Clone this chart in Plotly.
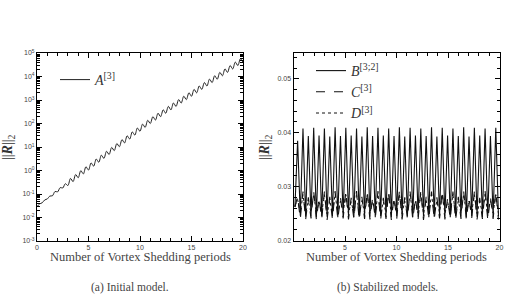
import plotly.graph_objects as go

# ---------------- data ----------------
# (a) Initial model: residual norm of A^[3], sampled every quarter shedding period
A_t = [i * 0.25 for i in range(81)]
A_res = [2.88e-2, 3.80e-2, 4.22e-2, 5.59e-2, 6.17e-2, 8.18e-2, 8.41e-2, 1.28e-1, 1.23e-1, 1.87e-1,
         1.80e-1, 2.74e-1, 2.29e-1, 4.60e-1, 3.35e-1, 6.72e-1, 4.90e-1, 9.83e-1, 7.16e-1, 1.44,
         1.045, 2.10, 1.53, 3.08, 2.24, 4.49, 3.27, 6.57, 4.79, 9.60,
         7.00, 14.0, 10.3, 20.6, 14.9, 30.0, 21.8, 43.9, 32.0, 64.2,
         46.7, 93.9, 68.4, 137, 99.8, 196, 140, 274, 195, 383,
         272, 534, 380, 746, 531, 1041, 741, 1454, 1035, 2030,
         1445, 2835, 2018, 3958, 2818, 5527, 3934, 7719, 5494, 10780,
         7671, 15050, 10710, 21010, 14960, 29340, 20890, 40960, 29170, 57220,
         40730]

# (b) Stabilized models, sampled every half oscillation
BCD_t = [round(0.14 + 0.26 * i, 2) for i in range(77)]
B_res = [0.0262, 0.0385, 0.0246, 0.0408, 0.0244, 0.0394, 0.0245, 0.0409, 0.0243, 0.0395,
         0.0245, 0.0408, 0.0244, 0.0393, 0.0245, 0.0410, 0.0243, 0.0394, 0.0244, 0.0409,
         0.0245, 0.0395, 0.0243, 0.0408, 0.0244, 0.0393, 0.0245, 0.0410, 0.0244, 0.0394,
         0.0243, 0.0409, 0.0245, 0.0395, 0.0244, 0.0408, 0.0243, 0.0394, 0.0245, 0.0410,
         0.0244, 0.0393, 0.0245, 0.0409, 0.0243, 0.0395, 0.0244, 0.0408, 0.0245, 0.0394,
         0.0243, 0.0410, 0.0244, 0.0393, 0.0245, 0.0409, 0.0244, 0.0395, 0.0243, 0.0408,
         0.0245, 0.0394, 0.0244, 0.0410, 0.0243, 0.0393, 0.0245, 0.0409, 0.0244, 0.0395,
         0.0243, 0.0408, 0.0245, 0.0394, 0.0244, 0.0409, 0.0245]
C_res = [0.0262, 0.0282, 0.0240, 0.0291, 0.0239, 0.0280, 0.0241, 0.0292, 0.0239, 0.0279,
         0.0240, 0.0291, 0.0238, 0.0281, 0.0240, 0.0292, 0.0239, 0.0280, 0.0241, 0.0291,
         0.0239, 0.0279, 0.0240, 0.0292, 0.0238, 0.0281, 0.0240, 0.0291, 0.0239, 0.0280,
         0.0241, 0.0292, 0.0239, 0.0279, 0.0240, 0.0291, 0.0238, 0.0281, 0.0240, 0.0292,
         0.0239, 0.0280, 0.0241, 0.0291, 0.0239, 0.0279, 0.0240, 0.0292, 0.0238, 0.0281,
         0.0240, 0.0291, 0.0239, 0.0280, 0.0241, 0.0292, 0.0239, 0.0279, 0.0240, 0.0291,
         0.0238, 0.0281, 0.0240, 0.0292, 0.0239, 0.0280, 0.0241, 0.0291, 0.0239, 0.0279,
         0.0240, 0.0292, 0.0238, 0.0281, 0.0240, 0.0291, 0.0239]
D_res = [0.0265, 0.0276, 0.0251, 0.0285, 0.0250, 0.0273, 0.0252, 0.0286, 0.0250, 0.0272,
         0.0251, 0.0285, 0.0249, 0.0274, 0.0251, 0.0286, 0.0250, 0.0273, 0.0252, 0.0285,
         0.0250, 0.0272, 0.0251, 0.0286, 0.0249, 0.0274, 0.0251, 0.0285, 0.0250, 0.0273,
         0.0252, 0.0286, 0.0250, 0.0272, 0.0251, 0.0285, 0.0249, 0.0274, 0.0251, 0.0286,
         0.0250, 0.0273, 0.0252, 0.0285, 0.0250, 0.0272, 0.0251, 0.0286, 0.0249, 0.0274,
         0.0251, 0.0285, 0.0250, 0.0273, 0.0252, 0.0286, 0.0250, 0.0272, 0.0251, 0.0285,
         0.0249, 0.0274, 0.0251, 0.0286, 0.0250, 0.0273, 0.0252, 0.0285, 0.0250, 0.0272,
         0.0251, 0.0286, 0.0249, 0.0274, 0.0251, 0.0285, 0.0250]

left_xticks = [0, 5, 10, 15, 20]
right_xticks = [5, 10, 15, 20]
left_yticks = [1e-3, 1e-2, 1e-1, 1e0, 1e1, 1e2, 1e3, 1e4, 1e5]
left_yticklabels = ["10<sup>-3</sup>", "10<sup>-2</sup>", "10<sup>-1</sup>", "10<sup>0</sup>",
                    "10<sup>1</sup>", "10<sup>2</sup>", "10<sup>3</sup>", "10<sup>4</sup>",
                    "10<sup>5</sup>"]
right_yticks = [0.02, 0.03, 0.04, 0.05]
right_yticklabels = ["0.02", "0.03", "0.04", "0.05"]

xtitle = "Number of Vortex Shedding periods"
ytitle = "||<b><i>R</i></b>||<sub>2</sub>"
captions = ["(a) Initial model.", "(b) Stabilized models."]

# ---------------- figure ----------------
W, H = 509, 302
SERIF = "Liberation Serif, Times New Roman, serif"
SANS = "Liberation Sans, Arial, sans-serif"

fig = go.Figure()

fig.add_trace(go.Scatter(x=A_t, y=A_res, mode="lines", name="<i>A</i><sup>[3]</sup>",
                         line=dict(color="#222", width=1, shape="spline", smoothing=0.9),
                         xaxis="x", yaxis="y", legend="legend"))
fig.add_trace(go.Scatter(x=BCD_t, y=B_res, mode="lines", name="<i>B</i><sup>[3;2]</sup>",
                         line=dict(color="#111", width=1.1),
                         xaxis="x2", yaxis="y2", legend="legend2"))
fig.add_trace(go.Scatter(x=BCD_t, y=C_res, mode="lines", name="<i>C</i><sup>[3]</sup>",
                         line=dict(color="#111", width=1.1, dash="dash"),
                         xaxis="x2", yaxis="y2", legend="legend2"))
fig.add_trace(go.Scatter(x=BCD_t, y=D_res, mode="lines", name="<i>D</i><sup>[3]</sup>",
                         line=dict(color="#111", width=1, dash="dot"),
                         xaxis="x2", yaxis="y2", legend="legend2"))

def px_x(p):
    return p / W

def px_y(p):
    return 1 - p / H

tickfont = dict(family=SANS, size=7, color="#444")
common = dict(showline=True, linecolor="black", linewidth=1, mirror="allticks",
              ticks="inside", ticklen=5, tickcolor="black", showgrid=False,
              zeroline=False, tickfont=tickfont, automargin=False)

fig.update_layout(
    width=W, height=H,
    margin=dict(l=0, r=0, t=0, b=0),
    paper_bgcolor="white", plot_bgcolor="white",
    xaxis=dict(domain=[px_x(37), px_x(243)], range=[0, 20], tickvals=left_xticks,
               minor=dict(ticks="inside", dtick=1, ticklen=3, tickcolor="black"),
               anchor="y", **common),
    yaxis=dict(domain=[px_y(241), px_y(53)], type="log", range=[-3, 5],
               tickvals=left_yticks, ticktext=left_yticklabels,
               minor=dict(ticks="inside", dtick="D1", ticklen=3, tickcolor="black"),
               anchor="x", **common),
    xaxis2=dict(domain=[px_x(293.5), px_x(499.5)], range=[0, 20], tickvals=right_xticks,
                minor=dict(ticks="inside", dtick=1, ticklen=3, tickcolor="black"),
                anchor="y2", **common),
    yaxis2=dict(domain=[px_y(240.5), px_y(53)], range=[0.02, 0.0548],
                tickvals=right_yticks, ticktext=right_yticklabels,
                minor=dict(ticks="inside", dtick=0.002, ticklen=3, tickcolor="black"),
                anchor="x2", **common),
    legend=dict(x=px_x(55), y=px_y(64), xanchor="left", yanchor="top",
                bgcolor="rgba(0,0,0,0)", font=dict(family=SERIF, size=14, color="#333"),
                itemwidth=30),
    legend2=dict(x=px_x(311), y=px_y(55), xanchor="left", yanchor="top",
                 bgcolor="rgba(0,0,0,0)", font=dict(family=SERIF, size=14, color="#333"),
                 itemwidth=30, tracegroupgap=0),
    showlegend=True,
)

annots = [
    dict(text=xtitle, x=px_x(140), y=px_y(257), xanchor="center", yanchor="middle",
         font=dict(family=SERIF, size=12.5, color="#444")),
    dict(text=xtitle, x=px_x(396), y=px_y(257), xanchor="center", yanchor="middle",
         font=dict(family=SERIF, size=12.5, color="#444")),
    dict(text=ytitle, x=px_x(9), y=px_y(147), xanchor="center", yanchor="middle",
         textangle=-90, font=dict(family=SERIF, size=14, color="#333")),
    dict(text=ytitle, x=px_x(266), y=px_y(147), xanchor="center", yanchor="middle",
         textangle=-90, font=dict(family=SERIF, size=14, color="#333")),
    dict(text=captions[0], x=px_x(130), y=px_y(287), xanchor="center", yanchor="middle",
         font=dict(family=SERIF, size=11.5, color="#444")),
    dict(text=captions[1], x=px_x(387), y=px_y(287), xanchor="center", yanchor="middle",
         font=dict(family=SERIF, size=11.5, color="#444")),
]
for a in annots:
    fig.add_annotation(xref="paper", yref="paper", showarrow=False, **a)

fig.write_html("out.html")
